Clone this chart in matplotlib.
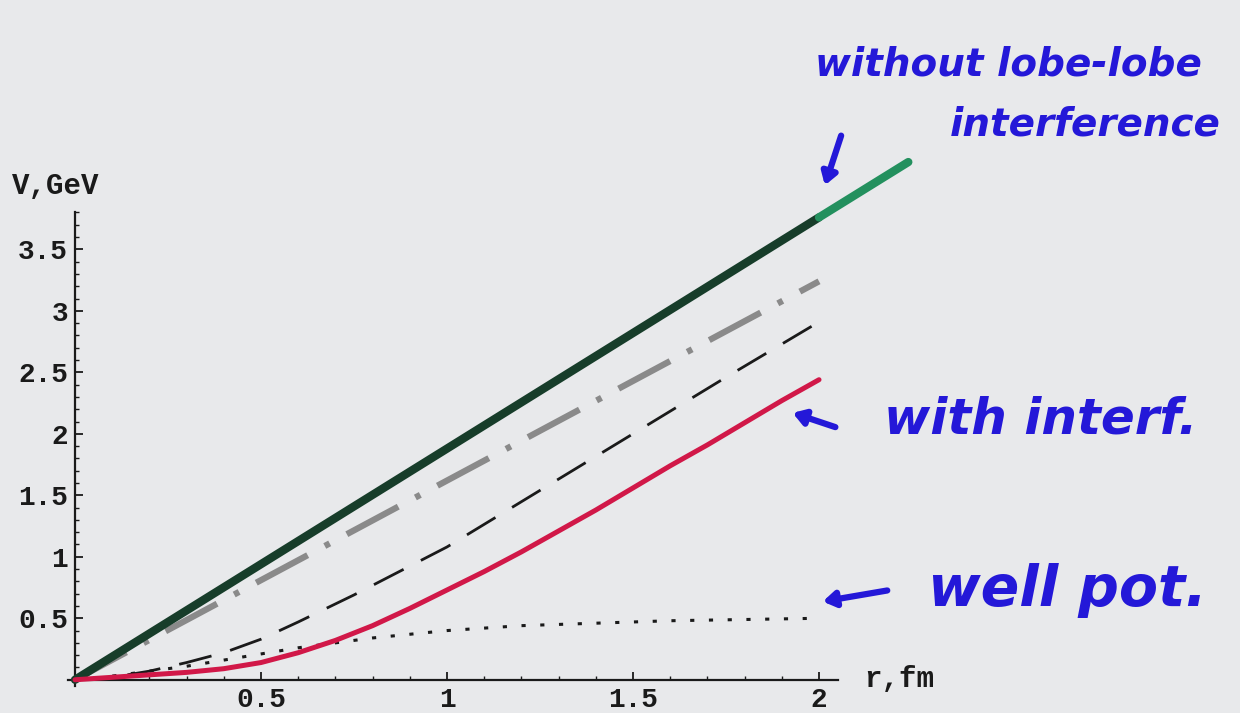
import numpy as np
import matplotlib
matplotlib.use("Agg")
import matplotlib.pyplot as plt
from matplotlib.ticker import MultipleLocator, FixedLocator

# values (r in fm, V in GeV)
r_green = [0.0, 2.0]
v_green = [0.0, 3.76]
r_green_ext = [2.0, 2.24]          # hand-drawn marker extension
v_green_ext = [3.76, 4.21]

r_gray = [0.0, 2.0]
v_gray = [0.0, 3.24]

r_dash = [0.0, 0.1, 0.2, 0.3, 0.4, 0.5, 0.6, 0.75, 1.0, 1.25, 1.5, 1.75, 2.0]
v_dash = [0.0, 0.02, 0.07, 0.14, 0.22, 0.33, 0.47, 0.69, 1.08, 1.54, 2.0, 2.46, 2.91]

r_red = [0.0, 0.1, 0.2, 0.3, 0.4, 0.5, 0.6, 0.7, 0.8, 0.9, 1.0, 1.1, 1.2, 1.3,
         1.4, 1.5, 1.6, 1.7, 1.8, 1.9, 2.0]
v_red = [0.0, 0.02, 0.04, 0.06, 0.09, 0.14, 0.22, 0.32, 0.44, 0.58, 0.73, 0.88,
         1.04, 1.21, 1.38, 1.56, 1.74, 1.91, 2.09, 2.27, 2.44]

r_well = [0.0, 0.1, 0.2, 0.3, 0.4, 0.5, 0.6, 0.7, 0.8, 0.9, 1.0, 1.2, 1.4, 1.6, 1.8, 2.0]
v_well = [0.0, 0.03, 0.07, 0.11, 0.16, 0.21, 0.26, 0.30, 0.34, 0.37, 0.40, 0.44, 0.46, 0.48, 0.49, 0.50]

x_ticks = [0.5, 1.0, 1.5, 2.0]
x_labels = ["0.5", "1", "1.5", "2"]
y_ticks = [0.5, 1.0, 1.5, 2.0, 2.5, 3.0, 3.5]
y_labels = ["0.5", "1", "1.5", "2", "2.5", "3", "3.5"]

notes = ["without lobe-lobe", "interference", "with interf.", "well pot."]

plt.rcParams['lines.scale_dashes'] = False
paper = '#e8e9eb'
ink = '#2418d8'
mono = 'Liberation Mono'

fig = plt.figure(figsize=(12.4, 7.13), dpi=100, facecolor=paper)
ax = fig.add_axes([0.0545, 0.038, 0.621, 0.664])
ax.set_facecolor(paper)
ax.set_xlim(-0.02, 2.05)
ax.set_ylim(-0.05, 3.8)

for s in ['top', 'right']:
    ax.spines[s].set_visible(False)
for s in ['left', 'bottom']:
    ax.spines[s].set_position(('data', 0))
    ax.spines[s].set_color('#1a1a1a')
    ax.spines[s].set_linewidth(1.6)

ax.xaxis.set_major_locator(FixedLocator(x_ticks))
ax.set_xticklabels(x_labels)
ax.yaxis.set_major_locator(FixedLocator(y_ticks))
ax.set_yticklabels(y_labels)
ax.xaxis.set_minor_locator(MultipleLocator(0.1))
ax.yaxis.set_minor_locator(MultipleLocator(0.1))
ax.tick_params(which='major', direction='in', length=6, width=1.3, color='#1a1a1a',
               labelsize=20, labelcolor='#1a1a1a', pad=5)
ax.tick_params(which='minor', direction='in', length=3, width=1.0, color='#1a1a1a')
for lab in ax.get_xticklabels() + ax.get_yticklabels():
    lab.set_family(mono)
    lab.set_fontweight('bold')

# curves
ax.plot(r_green, v_green, color='#173d2a', lw=6.0, solid_capstyle='round', zorder=5)
ax.plot(r_green_ext, v_green_ext, color='#23905e', lw=6.0, solid_capstyle='round',
        clip_on=False, zorder=5)
gray, = ax.plot(r_gray, v_gray, color='#8a8a8a', lw=4.5, zorder=4)
gray.set_dashes([42, 14, 4, 14])
dash, = ax.plot(r_dash, v_dash, color='#1a1a1a', lw=2.0, zorder=4)
dash.set_dashes([24, 14])
ax.plot(r_red, v_red, color='#d11848', lw=3.6, solid_capstyle='round',
        solid_joinstyle='round', zorder=6)
well, = ax.plot(r_well, v_well, color='#1a1a1a', lw=2.2, zorder=4)
well.set_dashes([3, 10.5])

# axis labels in Mathematica style
fig.text(12 / 1240, 1 - 186 / 713, "V,GeV", family=mono, fontsize=21,
         fontweight='bold', color='#1a1a1a', va='center', ha='left')
fig.text(864 / 1240, 1 - 679 / 713, "r,fm", family=mono, fontsize=21,
         fontweight='bold', color='#1a1a1a', va='center', ha='left')

# handwritten notes
hand = dict(color=ink, fontweight='bold', fontstyle='italic',
            family='DejaVu Sans', va='center', ha='left')
fig.text(815 / 1240, 1 - 64 / 713, notes[0], fontsize=28, **hand)
fig.text(950 / 1240, 1 - 124 / 713, notes[1], fontsize=28, **hand)
fig.text(884 / 1240, 1 - 420 / 713, notes[2], fontsize=36, **hand)
fig.text(928 / 1240, 1 - 590 / 713, notes[3], fontsize=41, **hand)

arrow = dict(arrowstyle='-|>,head_length=0.7,head_width=0.45', color=ink, lw=4.5)
H = 713
ax.annotate('', xy=(824, H - 188), xytext=(842, H - 133), xycoords='figure pixels',
            textcoords='figure pixels', arrowprops=arrow, annotation_clip=False)
ax.annotate('', xy=(790, H - 412), xytext=(838, H - 428), xycoords='figure pixels',
            textcoords='figure pixels', arrowprops=arrow, annotation_clip=False)
ax.annotate('', xy=(820, H - 602), xytext=(890, H - 590), xycoords='figure pixels',
            textcoords='figure pixels', arrowprops=arrow, annotation_clip=False)

fig.savefig("out.png", dpi=100, facecolor=paper)
